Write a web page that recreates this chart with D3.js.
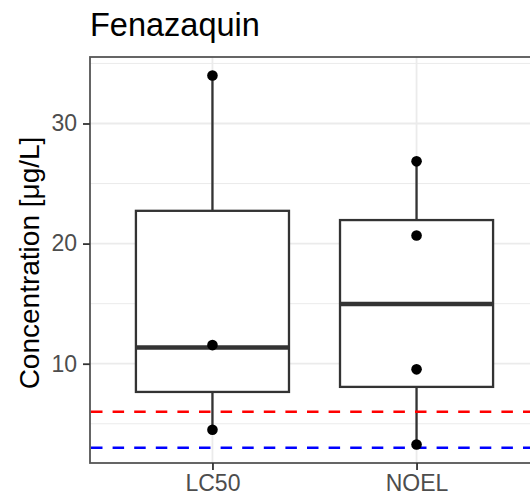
<!DOCTYPE html>
<html>
<head>
<meta charset="utf-8">
<script src="https://cdn.jsdelivr.net/npm/d3@7"></script>
<style>
  body { margin: 0; background: #fff; }
  svg { display: block; font-family: "Liberation Sans", Arial, sans-serif; }
</style>
</head>
<body>
<div id="chart"></div>
<script>
// data
var categories = ["LC50", "NOEL"];
var points = [
	[34.0, 11.55, 4.5],
	[26.85, 20.67, 9.53, 3.27]
];
// box stats: lower whisker, q1, median, q3, upper whisker
var boxLow = [4.5, 3.27];
var boxQ1 = [7.65, 8.07];
var boxMedian = [11.34, 14.98];
var boxQ3 = [22.73, 21.96];
var boxHigh = [34.0, 26.85];
var yTicks = [10, 20, 30];
var yMinorTicks = [5, 15, 25, 35];
var refLines = [6, 3];
var refColors = ["#ff0000", "#0000ff"];
var title = "Fenazaquin";
var yTitle = "Concentration [\u03bcg/L]";

var chart_width = 530,
	chart_height = 498;
var panel = { left: 90, top: 57, bottom: 463, right: 539 };

var svg = d3.select("#chart")
	.append("svg")
		.attr("width", chart_width)
		.attr("height", chart_height);

var x = d3.scalePoint()
	.domain(categories)
	.range([panel.left, panel.right])
	.padding(0.6);

// ggplot style 5% expansion around the points
var allPts = d3.merge(points);
var ext = d3.extent(allPts);
var pad = (ext[1] - ext[0]) * 0.05;
var y = d3.scaleLinear()
	.domain([ext[0] - pad, ext[1] + pad])
	.range([panel.bottom, panel.top]);

var boxW = x.step() * 0.75;

// panel background + grid
svg.append("rect")
	.attr("x", panel.left)
	.attr("y", panel.top)
	.attr("width", panel.right - panel.left)
	.attr("height", panel.bottom - panel.top)
	.attr("fill", "#fff");

svg.selectAll(".minor")
	.data(yMinorTicks.filter(function(d) { return y(d) > panel.top && y(d) < panel.bottom; }))
	.enter()
	.append("line")
	.attr("x1", panel.left)
	.attr("x2", panel.right)
	.attr("y1", function(d) { return y(d); })
	.attr("y2", function(d) { return y(d); })
	.attr("stroke", "#ebebeb")
	.attr("stroke-width", 1);

svg.selectAll(".major")
	.data(yTicks)
	.enter()
	.append("line")
	.attr("x1", panel.left)
	.attr("x2", panel.right)
	.attr("y1", function(d) { return y(d); })
	.attr("y2", function(d) { return y(d); })
	.attr("stroke", "#ebebeb")
	.attr("stroke-width", 1.8);

svg.selectAll(".xgrid")
	.data(categories)
	.enter()
	.append("line")
	.attr("x1", function(d) { return x(d); })
	.attr("x2", function(d) { return x(d); })
	.attr("y1", panel.top)
	.attr("y2", panel.bottom)
	.attr("stroke", "#ebebeb")
	.attr("stroke-width", 1.8);

// whiskers
svg.selectAll(".whisker")
	.data(categories)
	.enter()
	.append("line")
	.attr("x1", function(d) { return x(d); })
	.attr("x2", function(d) { return x(d); })
	.attr("y1", function(d, i) { return y(boxLow[i]); })
	.attr("y2", function(d, i) { return y(boxHigh[i]); })
	.attr("stroke", "#333")
	.attr("stroke-width", 2.3);

// boxes
svg.selectAll(".box")
	.data(categories)
	.enter()
	.append("rect")
	.attr("x", function(d) { return x(d) - boxW / 2; })
	.attr("y", function(d, i) { return y(boxQ3[i]); })
	.attr("width", boxW)
	.attr("height", function(d, i) { return y(boxQ1[i]) - y(boxQ3[i]); })
	.attr("fill", "#fff")
	.attr("stroke", "#333")
	.attr("stroke-width", 2.3);

svg.selectAll(".median")
	.data(categories)
	.enter()
	.append("line")
	.attr("x1", function(d) { return x(d) - boxW / 2; })
	.attr("x2", function(d) { return x(d) + boxW / 2; })
	.attr("y1", function(d, i) { return y(boxMedian[i]); })
	.attr("y2", function(d, i) { return y(boxMedian[i]); })
	.attr("stroke", "#333")
	.attr("stroke-width", 4.5);

// reference lines
svg.selectAll(".ref")
	.data(refLines)
	.enter()
	.append("line")
	.attr("x1", panel.left)
	.attr("x2", panel.right)
	.attr("y1", function(d) { return y(d); })
	.attr("y2", function(d) { return y(d); })
	.attr("stroke", function(d, i) { return refColors[i]; })
	.attr("stroke-width", 2.5)
	.attr("stroke-dasharray", "11.5,10.1")
	.attr("stroke-dashoffset", -1);

// points
categories.forEach(function(c, i) {
	svg.selectAll(".pt" + i)
		.data(points[i])
		.enter()
		.append("circle")
		.attr("cx", x(c))
		.attr("cy", function(d) { return y(d); })
		.attr("r", 5.3)
		.attr("fill", "#000");
});

// panel border
svg.append("rect")
	.attr("x", panel.left)
	.attr("y", panel.top)
	.attr("width", panel.right - panel.left)
	.attr("height", panel.bottom - panel.top)
	.attr("fill", "none")
	.attr("stroke", "#555")
	.attr("stroke-width", 1.8);

// axes
var yAxis = svg.append("g")
	.attr("transform", "translate(" + panel.left + ",0)")
	.call(d3.axisLeft(y).tickValues(yTicks).tickSize(7).tickPadding(6));
var xAxis = svg.append("g")
	.attr("transform", "translate(0," + panel.bottom + ")")
	.call(d3.axisBottom(x).tickSize(7).tickPadding(5));

[yAxis, xAxis].forEach(function(a) {
	a.select(".domain").remove();
	a.selectAll("line").attr("stroke", "#333").attr("stroke-width", 1.8);
	a.selectAll("text")
		.attr("fill", "#4d4d4d")
		.attr("font-size", 23)
		.attr("font-family", "Liberation Sans, Arial, sans-serif");
});

svg.append("text")
	.text(title)
	.attr("x", 90)
	.attr("y", 36)
	.attr("font-size", 32.5)
	.attr("fill", "#000");

svg.append("text")
	.text(yTitle)
	.attr("transform", "translate(38.5," + ((panel.top + panel.bottom) / 2 + 3) + ") rotate(-90)")
	.attr("text-anchor", "middle")
	.attr("font-size", 28)
	.attr("fill", "#000");
</script>
</body>
</html>
